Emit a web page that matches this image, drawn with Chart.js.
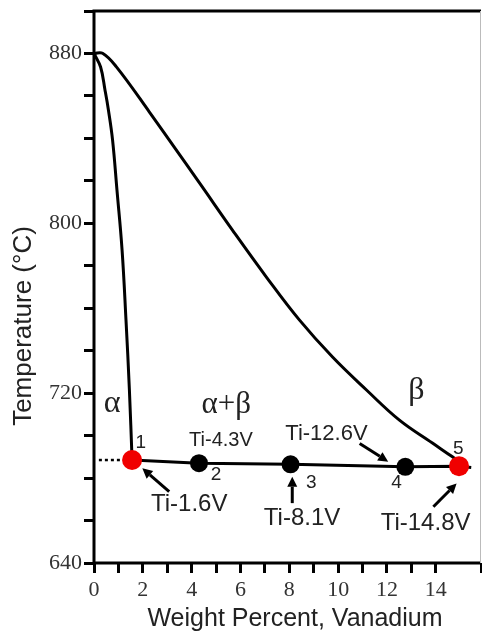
<!DOCTYPE html>
<html>
<head>
<meta charset="utf-8">
<script src="https://cdn.jsdelivr.net/npm/chart.js@4.4.1/dist/chart.umd.min.js"></script>
<style>
  html, body { margin: 0; padding: 0; background: #fff; overflow: hidden; }
  canvas { display: block; }
</style>
</head>
<body>
<canvas id="phaseChart" width="482" height="635"></canvas>
<script>
// alpha / (alpha+beta) boundary
const alphaX = [0, 0.27, 0.45, 0.59, 0.76, 0.94, 1.15, 1.31, 1.45, 1.56];
const alphaT = [880, 873.6, 862.8, 853.4, 839.3, 815.7, 787.4, 754.5, 721.5, 688.5];

// beta transus
const betaX = [0, 0.35, 0.91, 2.27, 4.32, 5.67, 7.06, 8.41, 9.77, 11.16, 12.51, 13.86, 14.68, 14.96];
const betaT = [880, 880.1, 873.8, 852.4, 819, 796.8, 774.7, 754.5, 737, 721.5, 707.3, 696.5, 690, 687.6];

// samples on the tie line
const sampleX = [1.56, 4.3, 8.05, 12.75, 14.95];
const sampleT = [688.5, 687, 686.5, 685.3, 685.6];
const sampleNo = ['1', '2', '3', '4', '5'];
const alloyNames = ['Ti-1.6V', 'Ti-4.3V', 'Ti-8.1V', 'Ti-12.6V', 'Ti-14.8V'];
const sampleColors = ['#f00000', '#000', '#000', '#000', '#f00000'];

// tie line end past sample 5, and dotted lead-in
const tieEndX = 15.45;
const tieEndT = 685;
const dotX = [0.2, 1.1];
const dotT = [688.5, 688.5];

// axis ticks
const xMin = 0, xMax = 15.85, xStep = 1;
const yMin = 640, yMax = 900, yStep = 20;
const yLabels = [640, 720, 800, 880];
const xLabels = [0, 2, 4, 6, 8, 10, 12, 14];

const toPts = (xs, ys) => xs.map((x, i) => ({ x: x, y: ys[i] }));

// text and arrows, in data units
const phaseText = [
  { t: 'α', x: 0.74, y: 715.3, size: 32 },
  { t: 'α+β', x: 5.42, y: 714.4, size: 31 },
  { t: 'β', x: 13.2, y: 721.4, size: 32 }
];
const numText = [
  { x: 1.92, y: 696.5 }, { x: 5.0, y: 681.4 }, { x: 8.9, y: 677.6 },
  { x: 12.39, y: 677.6 }, { x: 14.92, y: 694 }
];
const alloyText = [
  { x: 3.9, y: 667.8, size: 24 }, { x: 5.2, y: 697.9, size: 20 },
  { x: 8.52, y: 660.9, size: 24 }, { x: 9.52, y: 700.9, size: 22 },
  { x: 13.58, y: 658.5, size: 24 }
];
const arrows = [
  { x0: 3.08, y0: 673.6, x1: 1.98, y1: 684.6 },
  { x0: 8.12, y0: 668.2, x1: 8.12, y1: 680.6 },
  { x0: 10.88, y0: 696.3, x1: 12.05, y1: 687.7 },
  { x0: 13.9, y0: 666.5, x1: 14.85, y1: 677.5 }
];

const sans = '"Liberation Sans", Arial, sans-serif';
const serif = '"Liberation Serif", "Times New Roman", serif';

const decor = {
  id: 'decor',
  afterDatasetsDraw(chart) {
    const { ctx, chartArea: a, scales: { x, y } } = chart;
    ctx.save();
    // frame
    ctx.strokeStyle = '#000';
    ctx.lineWidth = 3;
    ctx.beginPath();
    ctx.moveTo(a.right, a.top);
    ctx.lineTo(a.left, a.top);
    ctx.lineTo(a.left, a.bottom);
    ctx.lineTo(a.right, a.bottom);
    ctx.stroke();
    ctx.strokeStyle = '#bbb';
    ctx.lineWidth = 1;
    ctx.beginPath();
    ctx.moveTo(a.right - 0.5, a.top);
    ctx.lineTo(a.right - 0.5, a.bottom);
    ctx.stroke();

    ctx.fillStyle = '#222';
    ctx.textAlign = 'center';
    ctx.textBaseline = 'middle';
    phaseText.forEach(p => {
      ctx.font = p.size + 'px ' + serif;
      ctx.fillText(p.t, x.getPixelForValue(p.x), y.getPixelForValue(p.y));
    });

    ctx.font = '19px ' + sans;
    numText.forEach((p, i) => ctx.fillText(sampleNo[i], x.getPixelForValue(p.x), y.getPixelForValue(p.y)));

    alloyText.forEach((p, i) => {
      ctx.font = p.size + 'px ' + sans;
      ctx.fillText(alloyNames[i], x.getPixelForValue(p.x), y.getPixelForValue(p.y));
    });

    // arrows
    ctx.strokeStyle = '#000';
    ctx.fillStyle = '#000';
    ctx.lineWidth = 3;
    arrows.forEach(ar => {
      const px0 = x.getPixelForValue(ar.x0), py0 = y.getPixelForValue(ar.y0);
      const px1 = x.getPixelForValue(ar.x1), py1 = y.getPixelForValue(ar.y1);
      const ang = Math.atan2(py1 - py0, px1 - px0);
      const len = 10, wid = 5;
      const bx = px1 - len * Math.cos(ang), by = py1 - len * Math.sin(ang);
      ctx.beginPath();
      ctx.moveTo(px0, py0);
      ctx.lineTo(bx, by);
      ctx.stroke();
      ctx.beginPath();
      ctx.moveTo(px1, py1);
      ctx.lineTo(bx + wid * Math.sin(ang), by - wid * Math.cos(ang));
      ctx.lineTo(bx - wid * Math.sin(ang), by + wid * Math.cos(ang));
      ctx.closePath();
      ctx.fill();
    });

    // axis titles
    ctx.fillStyle = '#222';
    ctx.font = '25px ' + sans;
    ctx.fillText('Weight Percent, Vanadium', 295, 619);
    ctx.font = '26px ' + sans;
    ctx.translate(24, 326);
    ctx.rotate(-Math.PI / 2);
    ctx.fillText('Temperature (°C)', 0, 0);
    ctx.restore();
  }
};

const noPad = s => {
  s.paddingLeft = 0;
  s.paddingRight = 0;
  s.paddingTop = 0;
  s.paddingBottom = 0;
};

const ctx = document.getElementById('phaseChart').getContext('2d');
const phaseChart = new Chart(ctx, {
  type: 'scatter',
  data: {
    datasets: [
      {
        label: 'samples',
        data: toPts(sampleX, sampleT),
        pointRadius: [10, 9, 9, 9, 10],
        pointBackgroundColor: sampleColors,
        pointBorderWidth: 0,
        showLine: false
      },
      {
        label: 'alpha',
        data: toPts(alphaX, alphaT),
        showLine: true,
        borderColor: '#000',
        borderWidth: 3,
        pointRadius: 0,
        tension: 0.4
      },
      {
        label: 'beta',
        data: toPts(betaX, betaT),
        showLine: true,
        borderColor: '#000',
        borderWidth: 3,
        pointRadius: 0,
        tension: 0.4
      },
      {
        label: 'tie',
        data: toPts(sampleX.concat([tieEndX]), sampleT.concat([tieEndT])),
        showLine: true,
        borderColor: '#000',
        borderWidth: 3,
        pointRadius: 0
      },
      {
        label: 'dots',
        data: toPts(dotX, dotT),
        showLine: true,
        borderColor: '#000',
        borderWidth: 2.5,
        borderDash: [3, 3],
        pointRadius: 0
      }
    ]
  },
  options: {
    responsive: false,
    animation: false,
    layout: { autoPadding: false, padding: { top: 11, right: 1, left: 0, bottom: 0 } },
    plugins: { legend: { display: false }, tooltip: { enabled: false } },
    scales: {
      x: {
        type: 'linear',
        min: xMin,
        max: xMax,
        afterFit: s => { s.height = 72; noPad(s); },
        border: { display: false },
        grid: { drawOnChartArea: false, tickLength: 10, tickColor: '#000', tickWidth: 3 },
        ticks: {
          stepSize: xStep,
          autoSkip: false,
          maxRotation: 0,
          padding: 4,
          color: '#333',
          font: { family: serif, size: 22 },
          callback: v => xLabels.includes(v) ? String(v) : ''
        }
      },
      y: {
        type: 'linear',
        min: yMin,
        max: yMax,
        afterFit: s => { s.width = 94; noPad(s); },
        border: { display: false },
        grid: { drawOnChartArea: false, tickLength: 10, tickColor: '#000', tickWidth: 3 },
        ticks: {
          stepSize: yStep,
          autoSkip: false,
          padding: 2,
          color: '#333',
          font: { family: serif, size: 22 },
          callback: v => yLabels.includes(v) ? String(v) : ''
        }
      }
    }
  },
  plugins: [decor]
});
</script>
</body>
</html>
